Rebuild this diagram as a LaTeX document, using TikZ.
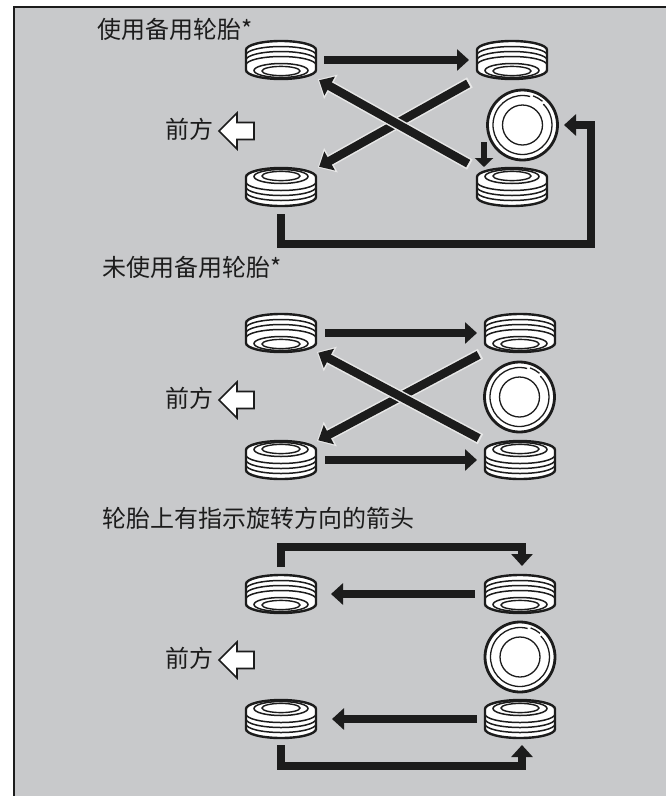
\documentclass[tikz,border=0pt]{standalone}
\usepackage{fontspec}
\newfontfamily\cjk{Noto Sans CJK SC}
\usetikzlibrary{arrows.meta}
\definecolor{bg}{RGB}{200,201,203}
\definecolor{halo}{RGB}{232,232,232}
\definecolor{ink}{RGB}{28,28,28}
\tikzset{
  tirebox/.style={minimum width=72pt, minimum height=38pt, inner sep=0pt, outer sep=0pt},
  sparebox/.style={circle, minimum size=70pt, inner sep=0pt, outer sep=0pt},
  cjklabel/.style={font=\cjk\fontsize{24pt}{26pt}\selectfont, text=ink, inner sep=0pt, anchor=west},
  bigarrow/.style={line width=8.5pt, draw=ink, line join=miter, -{Triangle[width=21pt,length=12pt]}},
  haloarrow/.style={line width=11.5pt, draw=halo, -{Triangle[width=27pt,length=15pt]}},
  smallarrow/.style={line width=5.5pt, draw=ink, -{Triangle[width=18pt,length=9pt]}},
  frontarrow/.style={draw=ink, fill=white, line width=1.6pt, line join=miter},
  tire/.pic={
    \path[fill=white, draw=ink, line width=2.4pt]
      (-35,-10) arc[start angle=180,end angle=360,x radius=35,y radius=9]
      -- (35,10) arc[start angle=0,end angle=180,x radius=35,y radius=9] -- cycle;
    \foreach \c in {-5,0,5}
      \draw[ink, line width=1.5pt] (-35,\c) arc[start angle=180,end angle=360,x radius=35,y radius=8.5];
    \draw[ink, line width=1.5pt] (0,10.5) ellipse[x radius=27,y radius=7];
    \draw[ink, line width=1.4pt] (0,11) ellipse[x radius=19,y radius=4.6];
  },
  spare/.pic={
    \draw[ink, fill=white, line width=2.8pt] (0,0) circle[radius=35];
    \draw[ink, line width=1.3pt] (-75:29.5) arc[start angle=-75, end angle=-405, radius=29.5];
    \draw[ink, line width=1.3pt] (-50:31) arc[start angle=-50, end angle=-70, radius=31];
    \draw[ink, line width=1.3pt] (0,0) circle[radius=20];
  },
  fwd/.pic={
    \draw[frontarrow] (-17,0) -- (1,-18) -- (1,-8.5) -- (18,-8.5) -- (18,8.5) -- (1,8.5) -- (1,18) -- cycle;
  }
}
\begin{document}
\begin{tikzpicture}[x=1pt,y=-1pt]
\useasboundingbox (0,0) rectangle (666,796);
\fill[white] (0,0) rectangle (666,796);
\fill[bg] (14,7) rectangle (666,796);
\draw[ink, line width=1.2pt] (14,796) -- (14,7) -- (666,7);

% ---------- section 1 ----------
\node[cjklabel] (t1) at (97,29) {使用备用轮胎*};
\node[cjklabel] (f1) at (165,129) {前方};
\pic at (236,131) {fwd};
\node[tirebox] (s1tl) at (281,60) {};
\node[tirebox] (s1tr) at (512,60) {};
\node[sparebox] (s1sp) at (522.5,125) {};
\node[tirebox] (s1br) at (512,187) {};
\node[tirebox] (s1bl) at (281,187) {};
\pic at (s1tl) {tire};
\pic at (s1tr) {tire};
\pic at (s1sp) {spare};
\pic[yscale=-1] at (s1br) {tire};
\pic[yscale=-1] at (s1bl) {tire};
\draw[bigarrow, shorten <=7pt, shorten >=7pt] (s1tl.east) -- (s1tr.west);
\draw[haloarrow, shorten <=7pt, shorten >=1pt] (s1tr.south west) -- (s1bl.north east);
\draw[bigarrow, shorten <=9pt, shorten >=2.5pt] (s1tr.south west) -- (s1bl.north east);
\draw[haloarrow, shorten <=7pt, shorten >=1pt] (s1br.north west) -- (s1tl.south east);
\draw[bigarrow, shorten <=9pt, shorten >=2.5pt] (s1br.north west) -- (s1tl.south east);
\coordinate (s1d) at (484,142);
\draw[smallarrow, shorten >=1pt] (s1d) -- (s1d |- s1br.north);
\coordinate (s1c) at (591,244);
\draw[bigarrow, shorten <=8pt, shorten >=6.5pt] (s1bl.south) |- (s1c) -- (s1c |- s1sp.east) -- (s1sp.east);

% ---------- section 2 ----------
\node[cjklabel] (t2) at (102,267) {未使用备用轮胎*};
\node[cjklabel] (f2) at (165,398) {前方};
\pic at (236,400) {fwd};
\node[tirebox] (s2tl) at (281,333) {};
\node[tirebox] (s2tr) at (520,333) {};
\node[sparebox] (s2sp) at (519.5,397) {};
\node[tirebox] (s2br) at (520,460) {};
\node[tirebox] (s2bl) at (281,460) {};
\pic at (s2tl) {tire};
\pic at (s2tr) {tire};
\pic at (s2sp) {spare};
\pic[yscale=-1] at (s2br) {tire};
\pic[yscale=-1] at (s2bl) {tire};
\draw[bigarrow, shorten <=8pt, shorten >=7pt] (s2tl.east) -- (s2tr.west);
\draw[bigarrow, shorten <=8pt, shorten >=7pt] (s2bl.east) -- (s2br.west);
\draw[haloarrow, shorten <=4pt, shorten >=0pt] (s2tr.south west) -- (s2bl.north east);
\draw[bigarrow, shorten <=6pt, shorten >=1.5pt] (s2tr.south west) -- (s2bl.north east);
\draw[haloarrow, shorten <=4pt, shorten >=0pt] (s2br.north west) -- (s2tl.south east);
\draw[bigarrow, shorten <=6pt, shorten >=1.5pt] (s2br.north west) -- (s2tl.south east);

% ---------- section 3 ----------
\node[cjklabel] (t3) at (102,518) {轮胎上有指示旋转方向的箭头};
\node[cjklabel] (f3) at (165,658) {前方};
\pic at (236,660) {fwd};
\node[tirebox] (s3tl) at (281,594) {};
\node[tirebox] (s3tr) at (520,594) {};
\node[sparebox] (s3sp) at (520,657) {};
\node[tirebox] (s3br) at (520,719) {};
\node[tirebox] (s3bl) at (281,719) {};
\pic at (s3tl) {tire};
\pic at (s3tr) {tire};
\pic at (s3sp) {spare};
\pic[yscale=-1] at (s3br) {tire};
\pic[yscale=-1] at (s3bl) {tire};
\draw[bigarrow, shorten <=9pt, shorten >=14pt] (s3tr.west) -- (s3tl.east);
\draw[bigarrow, shorten <=7pt, shorten >=15pt] (s3br.west) -- (s3bl.east);
\coordinate (s3c) at (522,547);
\draw[bigarrow, shorten <=8pt, shorten >=9pt] (s3tl.north) |- (s3c) -- (s3c |- s3tr.north);
\coordinate (s3d) at (522,766);
\draw[bigarrow, shorten <=7pt, shorten >=7pt] (s3bl.south) |- (s3d) -- (s3d |- s3br.south);
\end{tikzpicture}
\end{document}
